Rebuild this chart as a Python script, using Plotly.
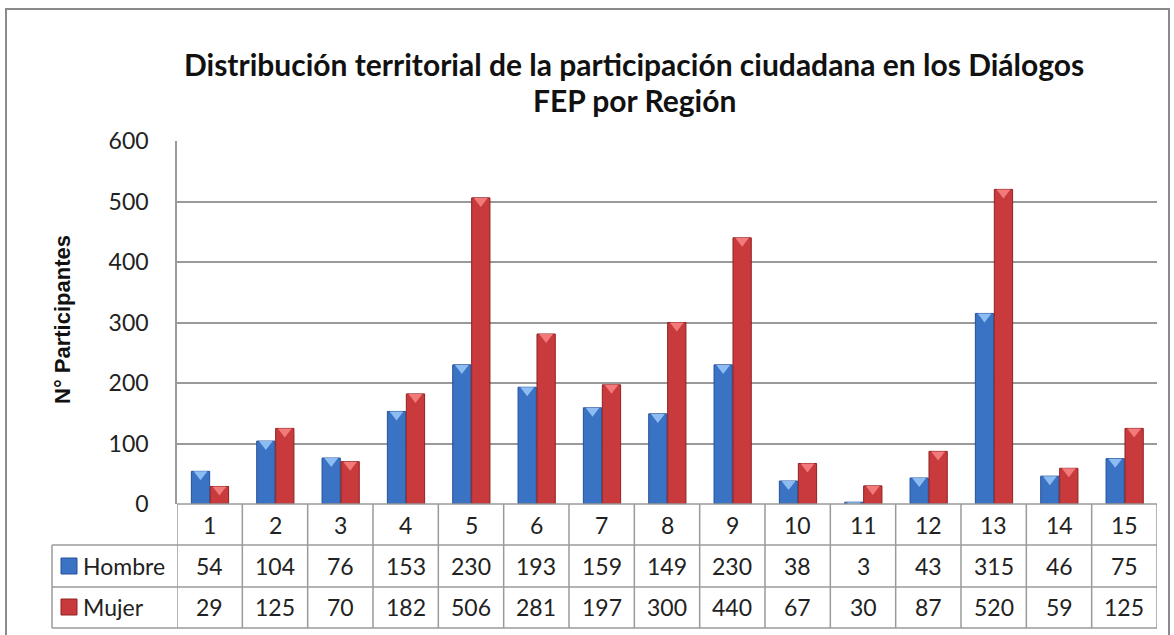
import plotly.graph_objects as go

# Datos: participantes por región
regiones = list(range(1, 16))
hombre = [54, 104, 76, 153, 230, 193, 159, 149, 230, 38, 3, 43, 315, 46, 75]
mujer = [29, 125, 70, 182, 506, 281, 197, 300, 440, 67, 30, 87, 520, 59, 125]
series = ["Hombre", "Mujer"]

titulo_1 = "Distribución territorial de la participación ciudadana en los Diálogos"
titulo_2 = "FEP por Región"
eje_y = "N° Participantes"

AZUL, AZUL_OSC, AZUL_CLARO = "#3a72c4", "#25509a", "#8cbcf2"
ROJO, ROJO_OSC, ROJO_CLARO = "#c93a3c", "#8f2224", "#f27a7a"
GRIS = "#9a9a9a"
FUENTE = "Lato"

W, H = 1174, 635
# plot area in window pixels
L, R, T, B = 177, 1157, 141, 504


def px(x):
    return (x - L) / (R - L)


def py(y):
    return (B - y) / (B - T)


ancho = 0.28
off_h, off_m = -0.28, 0.01

fig = go.Figure()
fig.add_trace(go.Bar(x=regiones, y=hombre, name="Hombre", width=ancho, offset=off_h,
                     marker=dict(color=AZUL, line=dict(color=AZUL_OSC, width=1))))
fig.add_trace(go.Bar(x=regiones, y=mujer, name="Mujer", width=ancho, offset=off_m,
                     marker=dict(color=ROJO, line=dict(color=ROJO_OSC, width=1))))

# little "bevel" caps on top of each bar
fig.add_trace(go.Scatter(x=[r + off_h + ancho / 2 for r in regiones], y=[v - 5 for v in hombre],
                         mode="markers", hoverinfo="skip",
                         marker=dict(symbol="triangle-down", size=12, color=AZUL_CLARO, line=dict(width=0))))
fig.add_trace(go.Scatter(x=[r + off_m + ancho / 2 for r in regiones], y=[v - 5 for v in mujer],
                         mode="markers", hoverinfo="skip",
                         marker=dict(symbol="triangle-down", size=12, color=ROJO_CLARO, line=dict(width=0))))

shapes = []
# outer chart border
shapes.append(dict(type="rect", xref="paper", yref="paper", x0=px(6), x1=px(1169), y0=py(9), y1=py(660),
                   line=dict(color="#8a8a8a", width=2)))

# data table grid
filas = [545, 587, 628]
shapes.append(dict(type="line", xref="paper", yref="paper", x0=0, x1=1, y0=py(504), y1=py(504),
                   line=dict(color=GRIS, width=1.5)))
for yy in filas:
    shapes.append(dict(type="line", xref="paper", yref="paper", x0=px(52), x1=1, y0=py(yy), y1=py(yy),
                       line=dict(color=GRIS, width=1.5)))
shapes.append(dict(type="line", xref="paper", yref="paper", x0=px(52), x1=px(52), y0=py(545), y1=py(628),
                   line=dict(color=GRIS, width=1.5)))
for r in regiones + [16]:
    shapes.append(dict(type="line", xref="x", yref="paper", x0=r - 0.5, x1=r - 0.5, y0=0, y1=py(628),
                       line=dict(color=GRIS, width=1.5)))

# legend keys in table
for yc, c, co in [(566, AZUL, AZUL_OSC), (607, ROJO, ROJO_OSC)]:
    shapes.append(dict(type="rect", xref="paper", yref="paper", x0=px(61), x1=px(77), y0=py(yc - 8), y1=py(yc + 8),
                       fillcolor=c, line=dict(color=co, width=1)))

annotations = []
for texto, yc in [(titulo_1, 64), (titulo_2, 100)]:
    annotations.append(dict(text=f"<b>{texto}</b>", xref="paper", yref="paper", x=px(634), y=py(yc),
                            xanchor="center", yanchor="middle", showarrow=False,
                            font=dict(family=FUENTE, size=30, color="#111")))
annotations.append(dict(text=f"<b>{eje_y}</b>", xref="paper", yref="paper", x=px(62), y=py(320),
                        textangle=-90, xanchor="center", yanchor="middle", showarrow=False,
                        font=dict(family="Liberation Sans", size=22, color="#111")))

for r in regiones:
    annotations.append(dict(text=str(r), xref="x", yref="paper", x=r, y=py(525), showarrow=False,
                            xanchor="center", yanchor="middle", font=dict(family=FUENTE, size=23, color="#222")))
for fila_y, vals in [(566, hombre), (607, mujer)]:
    for r, v in zip(regiones, vals):
        annotations.append(dict(text=str(v), xref="x", yref="paper", x=r, y=py(fila_y), showarrow=False,
                                xanchor="center", yanchor="middle", font=dict(family=FUENTE, size=23, color="#222")))
for fila_y, nombre in [(566, series[0]), (607, series[1])]:
    annotations.append(dict(text=nombre, xref="paper", yref="paper", x=px(81), y=py(fila_y), showarrow=False,
                            xanchor="left", yanchor="middle", font=dict(family=FUENTE, size=23, color="#222")))

fig.update_layout(
    width=W, height=H,
    margin=dict(l=L, r=W - R, t=T, b=H - B),
    paper_bgcolor="white", plot_bgcolor="white",
    showlegend=False, barmode="overlay",
    shapes=shapes, annotations=annotations,
    font=dict(family=FUENTE, size=20, color="#222"),
)
fig.update_xaxes(range=[0.5, 15.5], showticklabels=False, showgrid=False, zeroline=False,
                 showline=False, ticks="")
fig.update_yaxes(range=[0, 600], dtick=100, showgrid=True, gridcolor=GRIS, gridwidth=1.5,
                 zeroline=False, showline=True, linecolor=GRIS, linewidth=1.5, ticks="",
                 ticklabelstandoff=22, tickfont=dict(family=FUENTE, size=23, color="#222"))

# drop the default page margin so the figure sits flush at the window's corner
fig.write_html("out.html", config={"displayModeBar": False},
               post_script="document.body.style.margin='0px';document.body.style.overflow='hidden';")
